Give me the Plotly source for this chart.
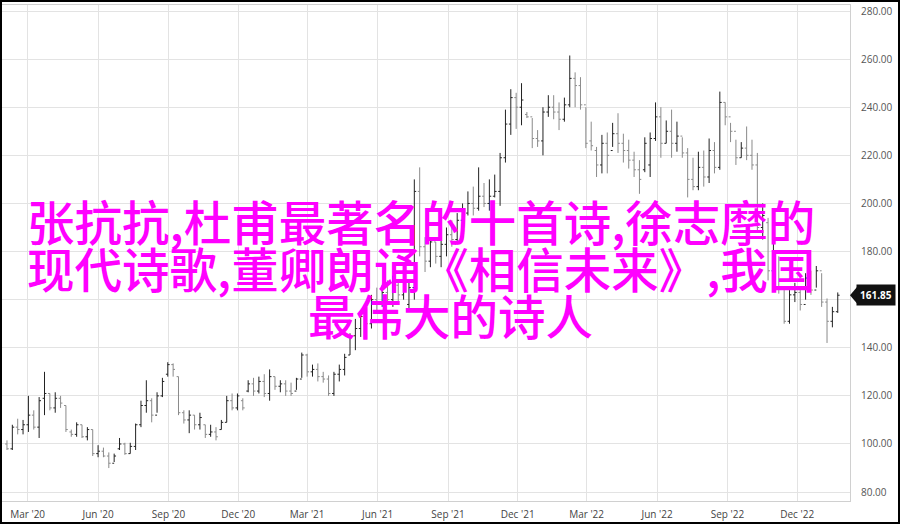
import plotly.graph_objects as go
import pandas as pd

# Weekly bars starting 2020-02-03
start_date = "2020-02-03"
opens = [100,98,107,106,108,112,107,119,121,115,119,116,105,104,108,103,106,96,97,95,
         92,98,100,96,99,108,116,118,112,120,129,133,128,113,110,112,108,108,104,105,
         106,109,118,115,118,122,125,122,126,121,128,124,125,122,122,127,137,130,131,128,
         127,121,129,131,137,145,148,153,150,160,158,163,160,166,162,158,165,205,182,176,
         184,178,183,187,185,193,196,200,198,203,200,203,205,219,233,244,240,237,236,227,
         226,238,240,238,235,241,252,249,241,226,222,216,225,222,229,225,222,218,214,214,
         216,227,236,225,230,225,228,221,210,207,215,211,222,215,242,236,230,219,223,220,
         216,190,192,172,180,165,151,162,163,158,169,164,172,159,151,155]
highs = [101.5,108,110.5,110,120,114,119.5,130,121,121.5,120,116,106,109,108,107,106,99.5,98.5,96.5,
         96,102.5,100.5,100.5,108.5,118,126.5,119,121.5,127.5,134,133.5,128,114,114,112,113,108,108,107,
         110,120,121,121,119,126.5,127.5,128,129,131,128,126.5,126.5,125.5,127.5,138,137.5,133,133.5,130,
         128.5,130,133,137.5,146,152,155.5,156,162,165,166,168,170,168,172,168,210,215,186,186,
         184,186,190,193,196,200,205,207,215,208.5,210,212,221,239,247.5,246,250,238,235.5,230.5,
         240,245,245,242,244,261.5,254.5,252.5,240,234,223.5,228.5,229.5,233.5,237.5,229,226.5,221.5,218,227.5,
         229.5,242,240,234.5,239,234,227.5,223,219,221.5,222,227,225.5,246.5,242,233.5,226.5,225.5,232,226.5,
         221,200,194,185,178,165,164,167,165,171,172,174,171,160.5,157,163]
lows = [97.5,97.5,104,104,105,106,102.5,112,114,113,115,105,103,103,102.5,101.5,95,94.5,94.5,90,
        92.5,97.5,95.5,96,97.5,107,113,109,113,119.5,128,128,112,108.5,104.5,106,106,102.5,103,101.5,
        106,109,114,114,114,121.5,120,121,119.5,118,122.5,121.5,120,120,122.5,127.5,128,128,126,125.5,
        120,120,126,128.5,137,139,144.5,146.5,148,155,157,158,157,158,160,155,160,178,171.5,173.5,
        175,173.5,178,182,183,188,195,195,197,198.5,197,202.5,199,217,228.5,231,232.5,235.5,223,223.5,
        220,236,235,230.5,234,240,240,239,223,222,211,212.5,212.5,223.5,221,217,214.5,211,204,213,
        211,226,219,225,219,221.5,219,202.5,205.5,205.5,207,208.5,212.5,214,232.5,225.5,216,219,218,214,
        188,185,168,171.5,162.5,150,150,159,155.5,160,162,165,157,142,148.5,154.5]
closes = [98,107,106,108,112,107,118,121,115,119,117,106,104,108,103,106,96,97,95,92,
          95,100,96,99,108,116,118,112,120,126,133,131,113,110,112,108,111,104,105,103,
          109,118,115,120,115,125,122,126,121,128,124,125,122,121,127,137,130,131,128,127,
          121,129,131,136,145,148,153,150,160,158,163,160,166,162,170,165,205,182,176,184,
          178,183,187,185,193,196,200,198,203,200,203,205,219,233,244,240,243,236,227,226,
          238,240,238,235,241,252,249,241,225,224,216,225,220,229,225,222,218,214,210,225,
          227,236,225,230,225,228,221,210,207,215,211,222,215,242,236,230,219,223,220,216,
          190,195,172,180,165,151,162,163,158,169,164,172,159,151,155,161.85]

dates = pd.date_range(start=start_date, periods=len(closes), freq="7D")

y_ticks = [80, 100, 120, 140, 160, 180, 200, 220, 240, 260, 280]
x_tick_labels = ["Mar '20", "Jun '20", "Sep '20", "Dec '20", "Mar '21", "Jun '21",
                 "Sep '21", "Dec '21", "Mar '22", "Jun '22", "Sep '22", "Dec '22"]
x_tick_dates = pd.date_range("2020-03-01", periods=len(x_tick_labels), freq="3MS")

title_lines = ["张抗抗,杜甫最著名的十首诗,徐志摩的",
               "现代诗歌,董卿朗诵《相信未来》,我国",
               "最伟大的诗人"]
last_price = closes[-1]

fig = go.Figure(go.Ohlc(
    x=dates, open=opens, high=highs, low=lows, close=closes,
    increasing=dict(line=dict(color="#222222", width=1)),
    decreasing=dict(line=dict(color="#8a8a8a", width=1)),
    tickwidth=0.35, hoverinfo="skip",
))

# plot area in pixels: x 2..850, y 5..501
L, R, T, B = 2, 850, 5, 501
W, H = R - L, B - T
def px_x(p):
    return (p - L) / W
def px_y(p):
    return (B - p) / H

fig.update_layout(
    width=900, height=524,
    margin=dict(l=L, r=900 - R, t=T, b=524 - B, pad=0, autoexpand=False),
    paper_bgcolor="white", plot_bgcolor="white",
    showlegend=False,
    xaxis=dict(
        range=["2020-01-27 12:00", "2023-02-08"],
        rangeslider=dict(visible=False),
        tickvals=list(x_tick_dates), ticktext=x_tick_labels,
        showgrid=True, gridcolor="#e3e3e3", gridwidth=1,
        showline=True, linecolor="#d0d0d0", linewidth=1, mirror=True,
        ticks="", tickfont=dict(family="Open Sans", size=10, color="#444"),
        ticklabelstandoff=4, zeroline=False, automargin=False,
    ),
    yaxis=dict(
        side="right", range=[76.3, 282.5],
        tickvals=y_ticks, ticktext=[f"{v:.2f}" for v in y_ticks],
        showgrid=True, gridcolor="#e3e3e3", gridwidth=1,
        showline=True, linecolor="#d0d0d0", linewidth=1,
        ticks="", tickfont=dict(family="Open Sans", size=10, color="#555"),
        ticklabelstandoff=8, zeroline=False, automargin=False,
    ),
)

# Last price marker
fig.add_shape(type="path", xref="paper", yref="y",
              path=f"M {px_x(850)} {last_price} L {px_x(857)} {last_price + 3.4} L {px_x(857)} {last_price - 3.4} Z",
              fillcolor="#111", line=dict(width=0))
fig.add_annotation(xref="paper", yref="y", x=px_x(856), y=last_price,
                   xanchor="left", yanchor="middle", showarrow=False,
                   text=f"<b>{last_price:.2f}</b>", bgcolor="#111", borderpad=3,
                   font=dict(family="Open Sans", size=10, color="white"))

# Overlay title text
line_pos = [(421, 220), (421, 267), (450, 314)]
for txt, (cx, cy) in zip(title_lines, line_pos):
    fig.add_annotation(xref="paper", yref="paper", x=px_x(cx), y=px_y(cy),
                       xanchor="center", yanchor="middle", showarrow=False,
                       text=txt,
                       font=dict(family="Noto Sans CJK SC", size=47.5, color="#ff00ff", weight=500))

post = (
    "document.body.style.margin='0';document.body.style.overflow='hidden';"
    "var f=document.createElement('div');"
    "f.style.cssText='position:fixed;left:0;top:0;width:900px;height:524px;"
    "border:2px solid #000;box-sizing:border-box;pointer-events:none;z-index:10;';"
    "document.body.appendChild(f);"
)
fig.write_html("out.html", config={"displayModeBar": False}, post_script=post)
